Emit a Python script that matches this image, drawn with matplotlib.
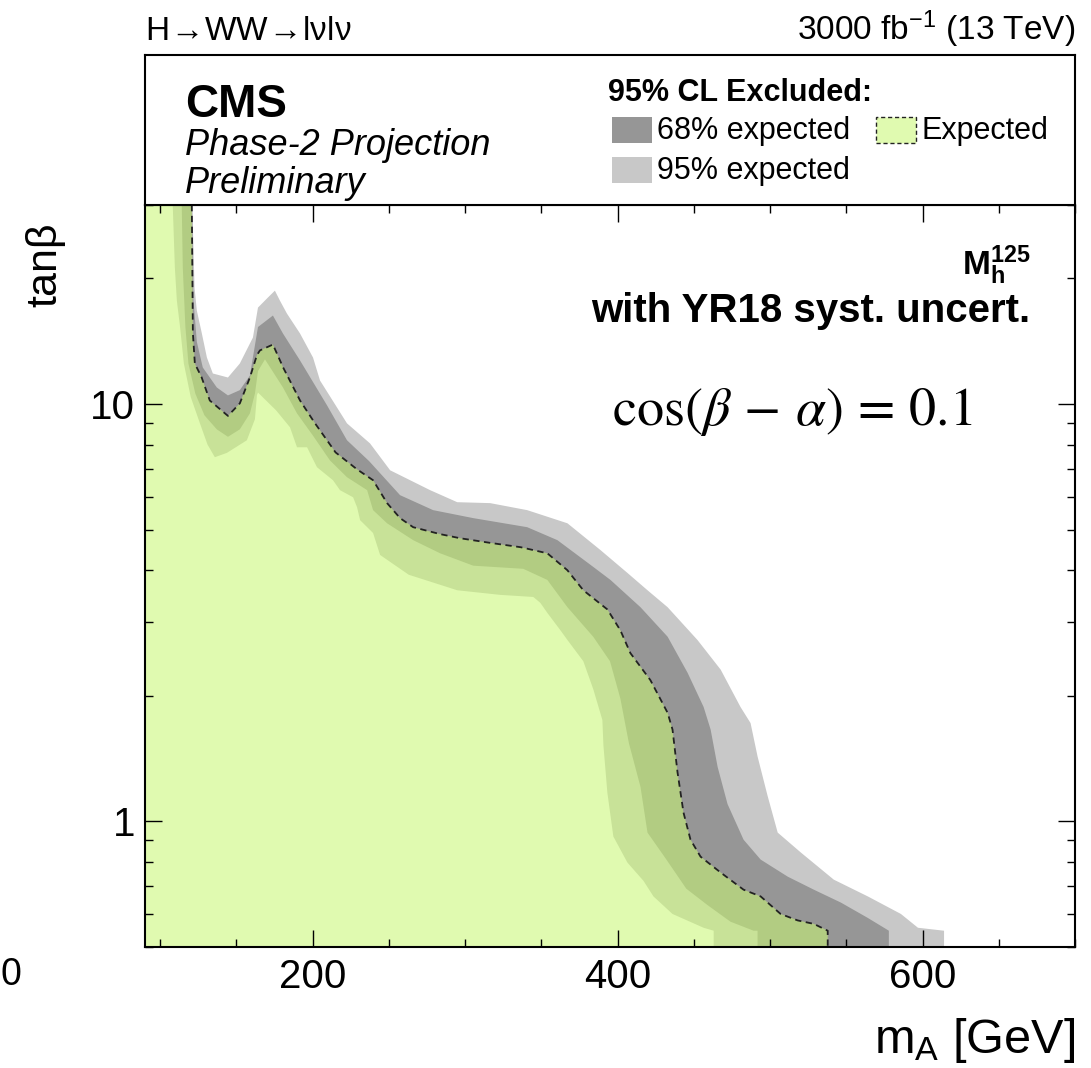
import matplotlib
matplotlib.use("Agg")
import matplotlib.pyplot as plt
from matplotlib.patches import Rectangle
from matplotlib.ticker import FixedLocator, FixedFormatter, LogLocator, MultipleLocator, NullFormatter
import numpy as np

plt.rcParams['font.family'] = ['Liberation Sans', 'DejaVu Sans']
plt.rcParams['mathtext.fontset'] = 'custom'
plt.rcParams['mathtext.rm'] = 'Liberation Sans'
plt.rcParams['mathtext.bf'] = 'Liberation Sans:bold'
plt.rcParams['mathtext.it'] = 'Liberation Sans:italic'

# contours in (m_A [GeV], tan beta), top edge -> bottom edge
exp_m = [120.7, 121.4, 122.7, 127.1, 132.5, 144.4, 152.2, 158.8, 163.4, 165.4, 173.9, 180.6, 191.7, 201.0,
         215.0, 229.0, 239.6, 248.8, 257.3, 265.9, 283.6, 296.7, 316.4, 336.4, 353.9, 367.0, 377.5, 393.3,
         401.8, 408.4, 421.5, 432.8, 436.0, 439.3, 443.2, 447.8, 454.4, 467.6, 482.6, 493.8, 506.9, 518.1,
         528.7, 537.8, 537.8]
exp_t = [30, 14.8, 12.5, 11.6, 10.2, 9.37, 10.04, 11.58, 13.1, 13.45, 13.89, 12.24, 10.2, 9.05,
         7.66, 6.98, 6.57, 5.79, 5.33, 5.07, 4.88, 4.77, 4.65, 4.54, 4.39, 4.0, 3.58, 3.22,
         2.87, 2.53, 2.18, 1.82, 1.66, 1.31, 1.05, 0.904, 0.823, 0.754, 0.686, 0.661, 0.600, 0.579,
         0.568, 0.547, 0.5]

up68_m = [120.9, 121.8, 124.0, 127.9, 137.1, 144.4, 152.2, 158.8, 164.1, 173.9, 180.5, 191.7, 209.4, 222.5,
          237.0, 257.3, 279.0, 305.3, 340.7, 360.5, 384.1, 395.3, 415.0, 432.8, 445.9, 456.4, 461.0, 465.6,
          472.1, 482.6, 493.8, 511.6, 528.7, 546.4, 564.1, 577.9, 577.9]
up68_t = [30, 17.7, 14.1, 12.24, 10.96, 10.49, 10.8, 11.7, 15.3, 16.3, 14.76, 12.72, 9.93, 8.19,
          7.3, 6.05, 5.57, 5.33, 5.07, 4.72, 4.07, 3.79, 3.26, 2.77, 2.27, 1.88, 1.66, 1.35,
          1.1, 0.904, 0.810, 0.737, 0.686, 0.639, 0.587, 0.547, 0.5]

up95_m = [121.0, 122.5, 124.0, 127.3, 130.6, 134.5, 144.4, 152.2, 160.8, 164.1, 170.6, 175.2, 178.5, 183.1,
          191.7, 200.2, 204.8, 222.5, 237.6, 250.8, 277.0, 294.8, 316.4, 340.7, 367.1, 388.7, 406.4, 419.6,
          432.8, 452.4, 467.6, 480.6, 487.2, 491.8, 498.4, 505.0, 520.2, 541.8, 564.1, 585.8, 597.0, 614.1,
          614.1]
up95_t = [30, 19.0, 16.76, 14.76, 12.93, 11.84, 11.58, 12.51, 14.44, 17.03, 18.0, 18.7, 17.7, 16.48,
          14.76, 12.93, 11.39, 8.99, 8.05, 6.94, 6.22, 5.82, 5.79, 5.57, 5.18, 4.47, 3.94, 3.58,
          3.26, 2.72, 2.31, 1.88, 1.72, 1.43, 1.15, 0.94, 0.842, 0.725, 0.661, 0.600, 0.556, 0.547,
          0.5]

lo68_m = [114.1, 114.8, 116.5, 118.5, 123.0, 129.0, 137.1, 144.4, 152.2, 158.8, 162.1, 164.1, 168.7, 180.5,
          189.7, 200.2, 211.3, 222.5, 235.7, 239.6, 248.8, 265.9, 283.6, 305.3, 338.1, 353.9, 367.1, 384.0,
          395.0, 401.8, 407.4, 415.0, 419.6, 432.0, 445.0, 459.0, 474.0, 489.2, 491.8, 491.8]
lo68_t = [30, 21.2, 15.3, 12.5, 10.6, 9.4, 8.7, 8.35, 8.7, 9.5, 10.6, 12.0, 12.8, 10.96,
          9.5, 8.4, 7.33, 6.68, 6.22, 5.57, 5.18, 4.72, 4.39, 4.10, 4.03, 3.79, 3.26, 2.77,
          2.42, 1.97, 1.54, 1.21, 0.94, 0.81, 0.69, 0.63, 0.575, 0.547, 0.547, 0.5]

lo95_m = [108.2, 109.6, 110.9, 113.0, 115.5, 120.0, 126.0, 131.0, 135.8, 143.7, 156.8, 162.1, 163.4, 164.1,
          176.0, 185.1, 189.7, 196.3, 202.8, 213.3, 217.9, 226.5, 229.1, 231.1, 239.6, 244.2, 263.0, 294.8,
          323.0, 344.7, 349.3, 353.9, 362.5, 367.1, 377.5, 384.1, 390.0, 390.7, 393.3, 397.2, 406.4, 417.0,
          423.5, 436.0, 456.4, 463.0, 463.0]
lo95_t = [30, 21.2, 17.7, 15.3, 12.5, 10.4, 9.0, 8.0, 7.46, 7.64, 8.19, 9.2, 10.5, 10.66,
          9.66, 8.80, 7.88, 7.88, 7.06, 6.57, 6.22, 5.98, 5.66, 5.27, 4.91, 4.35, 3.9, 3.58,
          3.49, 3.45, 3.34, 3.16, 2.87, 2.72, 2.42, 2.07, 1.75, 1.52, 1.17, 0.92, 0.797, 0.72,
          0.661, 0.600, 0.556, 0.547, 0.5]

xmin, xmax = 90, 700
ymin, ymax = 0.5, 30

c_lgray = '#c8c8c8'
c_dgray = '#969696'
c_dgreen = '#b2cc82'
c_mgreen = '#c8e298'
c_lgreen = '#e0fab0'

W, H = 1091, 1068
fig = plt.figure(figsize=(W / 100, H / 100), dpi=100)
fx = lambda x: x / W
fy = lambda y: 1 - y / H

ax = fig.add_axes([fx(145), fy(947), fx(1075) - fx(145), fy(205) - fy(947)])

def region(m, t, col):
    ax.fill(np.r_[m, xmin, xmin], np.r_[t, ymin, ymax], color=col, lw=0)

region(up95_m, up95_t, c_lgray)
region(up68_m, up68_t, c_dgray)
region(exp_m, exp_t, c_dgreen)
region(lo68_m, lo68_t, c_mgreen)
region(lo95_m, lo95_t, c_lgreen)
ax.plot(exp_m, exp_t, color='#222222', lw=1.3, dashes=(3.5, 2.5))

ax.set_yscale('log')
ax.set_xlim(xmin, xmax)
ax.set_ylim(ymin, ymax)
ax.xaxis.set_major_locator(FixedLocator([200, 400, 600]))
ax.xaxis.set_minor_locator(MultipleLocator(50))
ax.yaxis.set_major_locator(FixedLocator([1, 10]))
ax.yaxis.set_major_formatter(FixedFormatter(['1', '10']))
ax.yaxis.set_minor_locator(LogLocator(subs=np.arange(2, 10)))
ax.yaxis.set_minor_formatter(NullFormatter())
ax.tick_params(which='both', direction='in', top=True, right=True, width=1.0, labelsize=29)
ax.tick_params(which='major', length=12)
ax.tick_params(which='minor', length=6)
ax.tick_params(axis='x', pad=8)
ax.tick_params(axis='y', pad=7)
for s in ax.spines.values():
    s.set_linewidth(1.5)

# header box
box = fig.add_axes([fx(145), fy(205), fx(1075) - fx(145), fy(55) - fy(205)])
box.set_xticks([])
box.set_yticks([])
for s in box.spines.values():
    s.set_linewidth(1.5)

fig.text(fx(185), fy(117), 'CMS', fontsize=33, fontweight='bold', va='baseline')
fig.text(fx(185), fy(155), 'Phase-2 Projection', fontsize=26, style='italic', va='baseline')
fig.text(fx(185), fy(193), 'Preliminary', fontsize=26, style='italic', va='baseline')

fig.text(fx(608), fy(101), '95% CL Excluded:', fontsize=22, fontweight='bold', va='baseline')
fig.patches.append(Rectangle((fx(612), fy(143)), fx(40), 26 / H, transform=fig.transFigure,
                             facecolor=c_dgray, edgecolor='none'))
fig.patches.append(Rectangle((fx(612), fy(183)), fx(40), 26 / H, transform=fig.transFigure,
                             facecolor=c_lgray, edgecolor='none'))
fig.patches.append(Rectangle((fx(876), fy(143)), fx(40), 26 / H, transform=fig.transFigure,
                             facecolor=c_lgreen, edgecolor='#222222', lw=1.0, linestyle=(0, (3, 2))))
fig.text(fx(657), fy(139), '68% expected', fontsize=22, va='baseline')
fig.text(fx(657), fy(179), '95% expected', fontsize=22, va='baseline')
fig.text(fx(922), fy(139), 'Expected', fontsize=22, va='baseline')

# top labels
fig.text(fx(145), fy(40), r'H$\!\rightarrow\!$WW$\!\rightarrow\!$lνlν', fontsize=24, va='baseline')
fig.text(fx(1075), fy(40), r'3000 fb$^{\mathregular{-1}}$ (13 TeV)', fontsize=24, va='baseline', ha='right')

# in-plot labels
ax.text(0.952, 0.905, r'$\mathbf{M_h^{125}}$', transform=ax.transAxes, fontsize=24, ha='right', va='baseline')
ax.text(0.952, 0.842, 'with YR18 syst. uncert.', transform=ax.transAxes, fontsize=29, fontweight='bold',
        ha='right', va='baseline')
ax.text(0.502, 0.703, r'$\cos(\beta\,-\,\alpha)\,=\,0.1$', transform=ax.transAxes, fontsize=39,
        math_fontfamily='stix', ha='left', va='baseline')

# axis titles
fig.text(fx(1075), fy(1053), r'm$_{\mathregular{A}}$ [GeV]', fontsize=35, ha='right', va='baseline')
fig.text(fx(45), fy(222), 'tanβ', fontsize=31, rotation=90, ha='center', va='top')

# label of the neighbouring panel, at the left edge
fig.text(fx(1), fy(975), '0', fontsize=27, ha='left', va='center')

fig.savefig('out.png', dpi=100)
